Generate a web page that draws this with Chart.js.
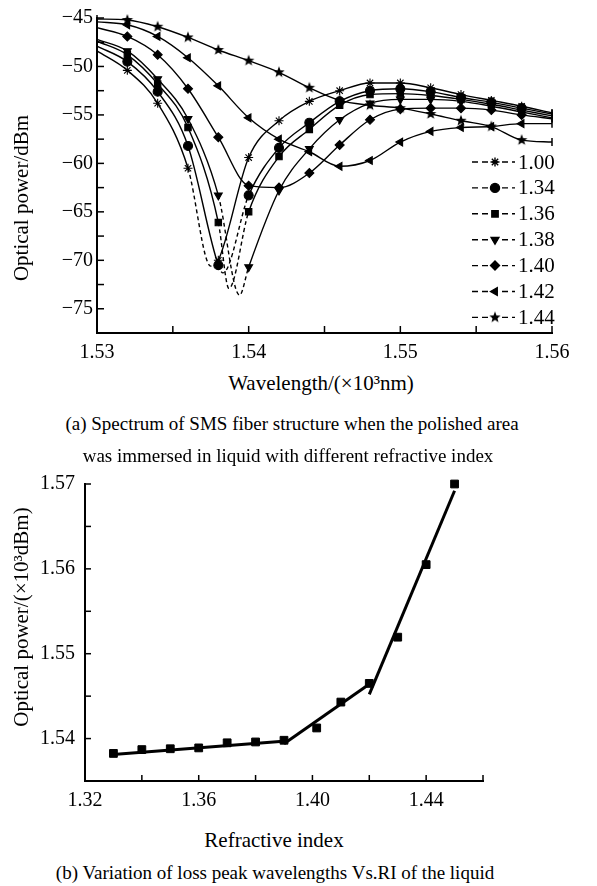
<!DOCTYPE html>
<html><head><meta charset="utf-8">
<script src="https://cdn.jsdelivr.net/npm/chart.js@4.4.1/dist/chart.umd.min.js"></script>
<style>
body{margin:0;background:#fff;width:597px;height:886px;position:relative;overflow:hidden;font-family:"Liberation Serif","Times New Roman",serif;color:#000;}
canvas{position:absolute;left:0;}
#c1{top:0;}
#c2{top:440px;}
.t{position:absolute;white-space:nowrap;line-height:1;transform:translate(-50%,-50%);z-index:2;}
.yt{transform:translate(-50%,-50%) rotate(-90deg);}
</style></head>
<body>
<canvas id="c1" width="597" height="370"></canvas>
<canvas id="c2" width="597" height="380"></canvas>
<div class="t yt" style="left:21px;top:198px;font-size:21px">Optical power/dBm</div>
<div class="t" style="left:321px;top:383px;font-size:21px">Wavelength/(×10³nm)</div>
<div class="t" style="left:292px;top:423px;font-size:19px">(a) Spectrum of SMS fiber structure when the polished area</div>
<div class="t" style="left:288px;top:455px;font-size:19px">was immersed in liquid with different refractive index</div>
<div class="t yt" style="left:21px;top:617px;font-size:21px">Optical power/(×10³dBm)</div>
<div class="t" style="left:274px;top:840px;font-size:21px">Refractive index</div>
<div class="t" style="left:275px;top:872px;font-size:19px">(b) Variation of loss peak wavelengths Vs.RI of the liquid</div>
<script>
// ---------- data: (a) spectra ----------
const wavelengths = [1.530,1.532,1.534,1.536,1.538,1.540,1.542,1.544,1.546,1.548,1.550,1.552,1.554,1.556,1.558,1.560];
const seriesLabels = ['1.00','1.34','1.36','1.38','1.40','1.42','1.44'];
const p100 = [-48.4,-50.4,-53.8,-60.5,-70.0,-59.4,-55.6,-53.6,-52.5,-51.7,-51.7,-52.2,-52.9,-53.5,-54.1,-54.8];
const p134 = [-47.9,-49.5,-52.6,-58.2,-70.5,-63.3,-58.4,-55.8,-53.6,-52.5,-52.3,-52.6,-53.2,-53.7,-54.3,-54.9];
const p136 = [-47.4,-48.8,-51.8,-56.3,-66.1,-65.0,-59.3,-56.5,-54.0,-52.9,-52.8,-53.0,-53.4,-53.9,-54.5,-55.1];
const p138 = [-47.2,-48.4,-51.3,-55.4,-63.3,-70.7,-62.8,-58.5,-55.5,-53.8,-53.4,-53.4,-53.6,-54.1,-54.7,-55.3];
const p140 = [-46.0,-46.9,-48.8,-52.3,-57.3,-62.3,-62.5,-61.0,-58.1,-55.5,-54.4,-54.3,-54.3,-54.5,-55.0,-55.4];
const p142 = [-45.4,-45.7,-46.9,-49.1,-52.0,-55.3,-57.5,-58.8,-60.3,-59.7,-57.8,-56.7,-56.3,-56.2,-55.9,-55.9];
const p144 = [-45.1,-45.2,-45.9,-47.0,-48.3,-49.4,-50.6,-52.2,-53.5,-54.0,-54.3,-54.9,-55.6,-56.2,-57.6,-57.8];
// unmarked points at the bottom of the sharp dips: [wavelength, power]
const dip100 = [[1.5375,-70.6]];
const dip134 = [[1.5383,-71.3]];
const dip136 = [[1.5387,-72.9]];
const dip138 = [[1.5394,-73.6]];
const dipNone = [];

// ---------- data: (b) loss peak wavelength vs RI ----------
const riValues = [1.33,1.34,1.35,1.36,1.37,1.38,1.39,1.4015,1.41,1.42,1.43,1.44,1.45];
const peakWl = [1.53825,1.5387,1.5388,1.5389,1.5395,1.5396,1.5398,1.54125,1.5443,1.5465,1.55195,1.5605,1.5700];
const fit1 = [[1.3288,1.5381],[1.3908,1.5397]];
const fit2 = [[1.3900,1.5394],[1.4212,1.5467]];
const fit3 = [[1.4200,1.5452],[1.4500,1.5692]];

const FONT = '"Liberation Serif","Times New Roman",serif';

// five-pointed filled star marker
function starCanvas(r){
  const c = document.createElement('canvas'); const s = Math.ceil(r*2+2);
  c.width = s; c.height = s; const g = c.getContext('2d');
  g.fillStyle = '#000'; g.beginPath();
  for(let i=0;i<10;i++){
    const rr = i%2===0 ? r : r*0.42; const a = -Math.PI/2 + i*Math.PI/5;
    const x = s/2 + rr*Math.cos(a), y = s/2 + rr*Math.sin(a);
    i===0 ? g.moveTo(x,y) : g.lineTo(x,y);
  }
  g.closePath(); g.fill(); return c;
}
const STAR5 = starCanvas(6);

function makeSeries(label, values, dips, style, rot){
  const pts = wavelengths.map((x,i)=>({x, y: values[i], m: 1}));
  dips.forEach(([x,y])=>pts.push({x, y, m: 0}));
  pts.sort((a,b)=>a.x-b.x);
  const last = pts.length-1;
  const isEnd = c => c.index===0 || c.index===last;
  return {
    label, data: pts, showLine: true, clip: 8,
    borderColor:'#000', backgroundColor:'#000', borderWidth:1.4,
    pointBackgroundColor:'#000', pointBorderColor:'#000',
    pointBorderWidth: c => isEnd(c) ? 1.5 : 1.1,
    pointStyle: c => isEnd(c) ? 'line' : style,
    pointRotation: c => isEnd(c) ? 90 : rot,
    pointRadius: c => { const p = pts[c.index]; return (p && p.m) ? (isEnd(c) ? 4 : 4.5) : 0; },
    pointHoverRadius: 0,
    cubicInterpolationMode: 'monotone',
    segment: { borderDash: c => (pts[c.p0DataIndex].m===0 || pts[c.p1DataIndex].m===0) ? [4,3] : undefined },
    legendStyle: style, legendRot: rot
  };
}

const innerTicks = {
  id:'innerTicks',
  afterDraw(chart, args, o){
    const {ctx, chartArea:a} = chart; const xs = chart.scales.x, ys = chart.scales.y;
    ctx.save(); ctx.strokeStyle='#000'; ctx.lineWidth=1.5;
    xs.ticks.forEach(t=>{ const px = xs.getPixelForValue(t.value); ctx.beginPath(); ctx.moveTo(px,a.bottom); ctx.lineTo(px,a.bottom-o.len); ctx.stroke(); });
    ys.ticks.forEach(t=>{ const py = ys.getPixelForValue(t.value); ctx.beginPath(); ctx.moveTo(a.left,py); ctx.lineTo(a.left+o.len,py); ctx.stroke(); });
    ctx.restore();
  }
};

const spectrumLegend = {
  id:'spectrumLegend',
  afterDatasetsDraw(chart, args, o){
    const ctx = chart.ctx;
    chart.data.datasets.forEach((ds,i)=>{
      const y = o.top + i*o.step;
      ctx.save();
      ctx.strokeStyle='#000'; ctx.lineWidth=1.4; ctx.setLineDash([6,4]);
      ctx.beginPath(); ctx.moveTo(o.x0,y); ctx.lineTo(o.x1,y); ctx.stroke();
      ctx.setLineDash([]); ctx.fillStyle='#000';
      Chart.helpers.drawPoint(ctx,{pointStyle:ds.legendStyle, rotation:ds.legendRot, radius:4.5, borderWidth:1.1}, o.xm, y);
      ctx.font = '21px '+FONT; ctx.textAlign='left'; ctx.textBaseline='middle';
      ctx.fillText(ds.label, o.xt, y+1);
      ctx.restore();
    });
  }
};

const tickFont = {family:FONT, size:20};

new Chart(document.getElementById('c1'), {
  type:'scatter',
  data:{ datasets:[
    makeSeries(seriesLabels[0], p100, dip100, 'star', 0),
    makeSeries(seriesLabels[1], p134, dip134, 'circle', 0),
    makeSeries(seriesLabels[2], p136, dip136, 'rect', 0),
    makeSeries(seriesLabels[3], p138, dip138, 'triangle', 180),
    makeSeries(seriesLabels[4], p140, dipNone, 'rectRot', 0),
    makeSeries(seriesLabels[5], p142, dipNone, 'triangle', 270),
    makeSeries(seriesLabels[6], p144, dipNone, STAR5, 0)
  ]},
  options:{
    responsive:false, animation:false, events:[],
    layout:{padding:{left:0, top:18, right:45, bottom:0}},
    plugins:{ legend:{display:false}, tooltip:{enabled:false},
      innerTicks:{len:7},
      spectrumLegend:{x0:472, x1:515, xm:495, xt:518, top:162, step:25.9} },
    scales:{
      x:{ type:'linear', min:1.53, max:1.56,
        afterFit: s=>{ s.height = 37; },
        grid:{display:false, drawTicks:false},
        border:{display:true, color:'#000', width:2},
        ticks:{ stepSize:0.005, autoSkip:false, maxRotation:0, minRotation:0, padding:8, color:'#000', font:tickFont,
          callback: v => Math.round(v*1000)%10===0 ? Number(v).toFixed(2) : '' } },
      y:{ type:'linear', min:-77.5, max:-45,
        afterFit: s=>{ s.width = 97; },
        grid:{display:false, drawTicks:false},
        border:{display:true, color:'#000', width:2},
        ticks:{ stepSize:2.5, autoSkip:false, padding:4, color:'#000', font:tickFont,
          callback: v => Math.round(v*10)%50===0 ? '\u2212'+Math.abs(Math.round(v)) : '' } }
    }
  },
  plugins:[innerTicks, spectrumLegend]
});

new Chart(document.getElementById('c2'), {
  type:'scatter',
  data:{ datasets:[
    { label:'peak', data: riValues.map((x,i)=>({x, y: peakWl[i]})), clip: 10,
      pointStyle:'rect', pointRadius:5.5, pointHoverRadius:0, pointBackgroundColor:'#000', pointBorderColor:'#000', pointBorderWidth:1 },
    { label:'fit1', data: fit1.map(([x,y])=>({x,y})), showLine:true, borderColor:'#000', borderWidth:3, pointRadius:0 },
    { label:'fit2', data: fit2.map(([x,y])=>({x,y})), showLine:true, borderColor:'#000', borderWidth:3, pointRadius:0 },
    { label:'fit3', data: fit3.map(([x,y])=>({x,y})), showLine:true, borderColor:'#000', borderWidth:3, pointRadius:0 }
  ]},
  options:{
    responsive:false, animation:false, events:[],
    layout:{padding:{left:0, top:44, right:114, bottom:0}},
    plugins:{ legend:{display:false}, tooltip:{enabled:false}, innerTicks:{len:6} },
    scales:{
      x:{ type:'linear', min:1.32, max:1.46,
        afterFit: s=>{ s.height = 39; },
        grid:{display:false, drawTicks:false},
        border:{display:true, color:'#000', width:2},
        ticks:{ stepSize:0.02, autoSkip:false, maxRotation:0, minRotation:0, padding:8, color:'#000', font:tickFont,
          callback: v => Math.round(v*100)%4===0 ? Number(v).toFixed(2) : '' } },
      y:{ type:'linear', min:1.535, max:1.57,
        afterFit: s=>{ s.width = 85; },
        grid:{display:false, drawTicks:false},
        border:{display:true, color:'#000', width:2},
        ticks:{ stepSize:0.005, autoSkip:false, padding:10, color:'#000', font:tickFont,
          callback: v => Math.round(v*1000)%10===0 ? Number(v).toFixed(2) : '' } }
    }
  },
  plugins:[innerTicks]
});
</script>
</body></html>
